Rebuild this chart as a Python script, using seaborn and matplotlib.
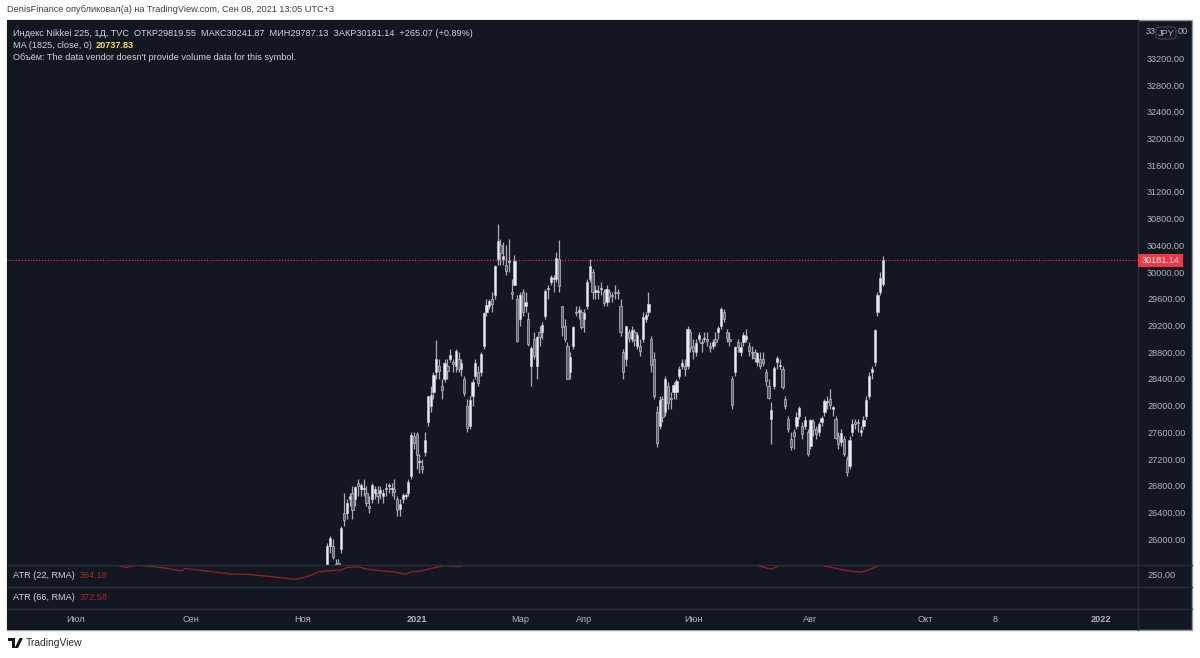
import numpy as np
import matplotlib
matplotlib.use("Agg")
import matplotlib.pyplot as plt
import matplotlib.transforms as mtransforms
from matplotlib.patches import Rectangle, FancyBboxPatch, Polygon, Circle
import seaborn as sns

# daily candles, Nikkei 225, bar 0 = 2 Nov 2020 ... bar 208 = 8 Sep 2021
opens = [
    23100, 23500, 23850, 24160, 24400, 25300, 25050, 25400, 25300, 25550, 25900, 25900, 25600, 25650, 25850, 26400, 26400, 26600, 26700,
    26600, 26850, 26750, 26750, 26700, 26500, 26600, 26700, 26700, 26700, 26650, 26750, 26800, 26750, 26750, 26600, 26450, 26600, 26650, 26700, 26950, 27550,
    27575, 27150, 27100, 27300, 27750, 28000, 28200, 28500, 28600, 28300, 28400, 28600, 28700, 28650, 28600, 28700, 28550, 28400, 28000,
    27700, 28150, 28450, 28500, 28500, 28900, 29400, 29500, 29600, 29650, 30200, 30400, 30200, 30100, 30150, 29700, 29800, 29600,
    29300, 29700, 29500, 29300, 28600, 29000, 28600, 29100, 29100, 29350, 29750, 29850, 29900, 29900, 30200, 29500, 29200, 28900, 28500, 28900, 29400, 29400, 29400,
    29300, 29500, 29900, 30000, 29700, 29700, 29750, 29700, 29550, 29700, 29650, 29700, 29700, 29500, 28800, 28700, 29100, 29000, 29100, 28900, 28900,
    29000, 29300, 29400, 29000, 28700, 27900, 27700, 28100, 27900, 28300, 28100, 28200, 28200, 28450, 28600, 28600, 28600, 29100,
    28900, 28800, 29000, 28950, 29000, 29000, 28900, 28900, 29000, 29100, 29200, 29400, 29100, 29000, 28400, 28500, 28950, 28800, 28950, 29000, 28900, 28800,
    28800, 28650, 28700, 28700, 28500, 28300, 27800, 28300, 28650, 28600, 28550, 28100, 27800, 27500, 27600, 27700, 27850, 27700, 27700, 27600,
    27400, 27750, 27650, 27600, 27750, 27900, 28050, 28100, 27950, 27800, 27550, 27450, 27500, 27200, 27100, 27600, 27750, 27750, 27600, 27700, 27850,
    28150, 28500, 28650, 29400, 29700, 29819.55,
]
highs = [
    23300, 23750, 24180, 24400, 24900, 25350, 25400, 25600, 25500, 25950, 26057, 26000, 25700, 25700, 26200, 26700, 26600, 26700, 26800,
    26800, 26900, 26850, 26900, 26800, 26650, 26850, 26800, 26800, 26800, 26750, 26850, 26850, 26850, 26900, 26650, 26600, 26700, 26700, 26900, 27600, 27600,
    27600, 27280, 27200, 27600, 28150, 28300, 28500, 28980, 28700, 28400, 28700, 28700, 28850, 28700, 28850, 28800, 28700, 28450, 28100,
    28150, 28400, 28700, 28600, 28800, 29400, 29600, 29600, 29700, 30100, 30714, 30500, 30450, 30400, 30500, 29900, 30250, 29650,
    29700, 29750, 29700, 29400, 28900, 29100, 29050, 29200, 29250, 29750, 29800, 29950, 29950, 30300, 30485, 29500, 29300, 28950, 28800, 29200, 29500, 29500, 29450,
    29450, 29900, 30200, 30050, 29800, 29800, 29850, 29750, 29800, 29750, 29700, 29800, 29750, 29600, 28850, 29200, 29150, 29200, 29150, 29100, 29000,
    29400, 29400, 29700, 29050, 28800, 28000, 28150, 28150, 28450, 28350, 28200, 28350, 28400, 28600, 28700, 28700, 29200, 29150,
    29000, 29000, 29100, 29000, 29100, 29100, 28950, 29000, 29100, 29200, 29480, 29450, 29150, 29100, 28450, 28900, 29000, 28950, 29100, 29150, 28950, 28900,
    28850, 28800, 28800, 28800, 28550, 28400, 28050, 28600, 28750, 28700, 28600, 28150, 27850, 27600, 27650, 27900, 28000, 27750, 27850, 27650,
    27800, 27800, 27700, 27750, 27850, 28100, 28150, 28250, 28000, 27850, 27600, 27650, 27550, 27250, 27550, 27800, 27800, 27800, 27700, 27850, 28150,
    28500, 28600, 29150, 29700, 30000, 30241.87,
]
lows = [
    22950, 23400, 23800, 24100, 24350, 24800, 25000, 25300, 25200, 25500, 25800, 25700, 25450, 25400, 25800, 26200, 26300, 26500, 26300,
    26500, 26650, 26650, 26650, 26500, 26400, 26550, 26600, 26550, 26600, 26550, 26650, 26700, 26650, 26600, 26350, 26350, 26550, 26600, 26650, 26900, 27350,
    27050, 27000, 27000, 27250, 27700, 27900, 28100, 28400, 28400, 28100, 28350, 28400, 28650, 28500, 28500, 28500, 28450, 28150, 27600,
    27650, 28000, 28400, 28300, 28450, 28850, 29350, 29450, 29400, 29600, 30100, 30100, 30100, 29950, 30000, 29600, 29800, 28950,
    29200, 29350, 29400, 28900, 28300, 28700, 28400, 28900, 29000, 29300, 29600, 29800, 29700, 29850, 29700, 29050, 28950, 28400, 28400, 28850, 29350, 29300, 29150,
    29100, 29450, 29850, 29600, 29600, 29600, 29650, 29500, 29500, 29550, 29550, 29600, 29600, 29050, 28400, 28600, 28950, 28950, 28900, 28850, 28750,
    28950, 29250, 29350, 28500, 28100, 27385, 27650, 27750, 27850, 27950, 27950, 28100, 28100, 28400, 28550, 28450, 28550, 28800,
    28700, 28750, 28950, 28800, 28950, 28900, 28800, 28850, 28900, 29000, 29150, 29250, 28950, 28900, 27950, 28450, 28800, 28750, 28900, 28950, 28750, 28700,
    28650, 28600, 28550, 28600, 28300, 28100, 27420, 28250, 28550, 28550, 28250, 27950, 27600, 27330, 27350, 27650, 27800, 27500, 27650, 27250,
    27350, 27550, 27500, 27550, 27700, 27850, 27950, 27950, 27850, 27500, 27350, 27400, 27250, 26954, 27050, 27550, 27650, 27600, 27550, 27650, 27800,
    28100, 28400, 28600, 29350, 29650, 29787.13,
]
closes = [
    23295, 23695, 24105, 24325, 24839, 24905, 25349, 25520, 25385, 25906, 26014, 25728, 25634, 25527, 26165, 26296, 26537, 26644, 26433,
    26787, 26800, 26809, 26751, 26547, 26467, 26817, 26756, 26652, 26732, 26687, 26757, 26806, 26763, 26714, 26436, 26524, 26668, 26656, 26854, 27568, 27444,
    27258, 27158, 27056, 27490, 28139, 28164, 28456, 28698, 28519, 28242, 28633, 28523, 28756, 28631, 28822, 28546, 28635, 28197, 27663,
    28091, 28362, 28646, 28341, 28779, 29388, 29505, 29562, 29520, 30084, 30467, 30292, 30236, 30017, 30156, 29671, 30168, 28966,
    29663, 29408, 29559, 28930, 28864, 28743, 29028, 29036, 29211, 29717, 29766, 29921, 29914, 30216, 29792, 29174, 28995, 28405, 28729, 29176, 29384, 29432, 29178,
    29388, 29854, 30089, 29696, 29730, 29708, 29768, 29538, 29751, 29620, 29642, 29683, 29685, 29100, 28508, 29188, 29020, 29126, 28991, 29053, 28812,
    29331, 29357, 29518, 28608, 28147, 27448, 28084, 27824, 28406, 28044, 28098, 28317, 28364, 28553, 28642, 28549, 29149, 28860,
    28814, 28946, 29058, 28941, 29019, 28963, 28860, 28958, 28948, 29161, 29441, 29291, 29018, 28964, 28010, 28884, 28874, 28875, 29066, 29048, 28812, 28791,
    28707, 28783, 28598, 28643, 28366, 28118, 27940, 28569, 28718, 28608, 28279, 28003, 27652, 27388, 27548, 27833, 27970, 27581, 27782, 27283,
    27781, 27641, 27584, 27728, 27820, 28070, 28070, 28015, 27977, 27523, 27424, 27585, 27281, 27013, 27494, 27732, 27724, 27742, 27641, 27789, 28089,
    28451, 28543, 29128, 29660, 29916, 30181.14,
]

# ATR indicator samples (bar offset, value)
atr22_bars = [-70, -68, -65, -63, -59, -56, -53, -48, -45, -43, -42, -37, -30, -25, -20, -15, -10, -5, -3, -1,
              2, 6, 10, 14, 16, 20, 23, 28, 33, 37, 39, 43, 46, 51, 56, 59, 62, 70, 80, 90,
              100, 110, 120, 130, 140, 150, 155, 160, 163, 165, 168, 170, 172, 176, 180, 184, 187, 191, 194, 197,
              200, 203, 206, 208]
atr22 = [372, 366, 345, 330, 358, 345, 338, 318, 298, 290, 318, 298, 270, 250, 250, 235, 218, 200, 190, 198,
         225, 278, 292, 298, 330, 338, 310, 290, 278, 250, 278, 290, 318, 350, 338, 366, 420, 480, 520, 500,
         470, 440, 430, 470, 450, 400, 380, 375, 350, 334, 310, 340, 380, 400, 390, 375, 346, 320, 298, 285,
         274, 300, 346, 364.18]
atr66_bars = [-70, -60, -50, -40, -30, -20, -10, -5, -2, 0, 3, 10, 20, 30, 36, 38, 40, 50, 60, 80,
              100, 120, 140, 160, 180, 200, 208]
atr66 = [380, 360, 350, 340, 332, 326, 322, 319, 316, 318, 322, 330, 328, 324, 321, 318, 321, 340, 380, 450,
         480, 470, 460, 420, 390, 370, 372.58]

# top label 33600.00 is half hidden by the currency badge ("33 JPY 00")
price_ticks = list(range(26000, 33201, 400))
time_labels = ["Июл", "Сен", "Ноя", "2021", "Мар", "Апр", "Июн", "Авг", "Окт", "8", "2022"]
time_bars = [-81, -40, 0, 41, 78, 101, 140, 182, 223, 248, 286]

assert len(opens) == len(highs) == len(lows) == len(closes) == 209

W, H = 1200, 658
BG = '#131722'
SEP = '#2a2e39'
TXT = '#b2b5be'
HEAD = '#d1d4dc'
ATR_RED = '#8e1f24'

sns.set_theme(style="dark")
plt.rcParams['font.family'] = ['Liberation Sans', 'DejaVu Sans']
FS = 6.6

fig = plt.figure(figsize=(12, 6.58), dpi=100)
fig.patch.set_facecolor('white')


def px_axes(x0, y0, x1, y1):
    ax = fig.add_axes([x0 / W, 1 - y1 / H, (x1 - x0) / W, (y1 - y0) / H])
    ax.set_facecolor(BG)
    for s in ax.spines.values():
        s.set_visible(False)
    ax.grid(False)
    ax.set_xlim(-105.7, 299.3)
    return ax


def ftext(x, y, s, **kw):
    kw.setdefault('fontsize', FS)
    kw.setdefault('va', 'center')
    return fig.text(x / W, 1 - y / H, s, **kw)


# dark chart panel
fig.add_artist(Rectangle((7 / W, 1 - 630 / H), 1185 / W, 610 / H, transform=fig.transFigure,
                         facecolor=BG, edgecolor='#9598a1', lw=1.0, zorder=-5))

# price pane
ax = px_axes(7, 20, 1138, 564.5)
ax.set_ylim(25623, 33774)
bars = np.arange(len(closes))
o = np.array(opens)
c = np.array(closes)
up = c >= o
ax.vlines(bars, lows, highs, color='#a9acb5', lw=0.9, zorder=2)
ax.bar(bars[up], np.maximum(c - o, 15)[up], bottom=o[up], width=0.8,
       color='#e9ebf1', edgecolor='#d1d4dc', lw=0.4, zorder=3)
ax.bar(bars[~up], np.maximum(o - c, 15)[~up], bottom=c[~up], width=0.8,
       color='#5f626d', edgecolor='#b8bbc4', lw=0.5, zorder=3)
ax.axhline(closes[-1], color='#f23645', ls=(0, (1, 1.6)), lw=0.8, zorder=1)
ax.set_xticks([])
ax.yaxis.tick_right()
ax.set_yticks(price_ticks)
ax.set_yticklabels([f"{v:.2f}" for v in price_ticks])
ax.tick_params(axis='y', length=0, pad=6.5, labelsize=FS, labelcolor=TXT)

# ATR (22) pane
ax1 = px_axes(7, 564.5, 1138, 586.5)
ax1.set_ylim(106, 364)
sns.lineplot(x=atr22_bars, y=atr22, ax=ax1, color=ATR_RED, linewidth=1.0)
ax1.set_xticks([])
ax1.yaxis.tick_right()
ax1.set_yticks([250])
ax1.set_yticklabels(["250.00"])
ax1.tick_params(axis='y', length=0, pad=6.5, labelsize=FS, labelcolor=TXT)
ax1.set_xlabel("")
ax1.set_ylabel("")

# ATR (66) pane
ax2 = px_axes(7, 586.5, 1138, 608.5)
ax2.set_ylim(100, 320)
sns.lineplot(x=atr66_bars, y=atr66, ax=ax2, color=ATR_RED, linewidth=1.0)
ax2.set_xticks([])
ax2.set_yticks([])
ax2.set_xlabel("")
ax2.set_ylabel("")

# time axis
axt = px_axes(7, 608.5, 1138, 630)
axt.set_xticks([])
axt.set_yticks([])
trans = mtransforms.blended_transform_factory(axt.transData, axt.transAxes)
for b, lab in zip(time_bars, time_labels):
    axt.text(b, 0.5, lab, transform=trans, ha='center', va='center', fontsize=FS, color=TXT,
             fontweight='bold' if lab.isdigit() and len(lab) == 4 else 'normal')

# pane separators
for yy in (564.5, 586.5, 608.5):
    fig.add_artist(plt.Line2D([7 / W, 1192 / W], [1 - yy / H] * 2, color=SEP, lw=1, zorder=5))
fig.add_artist(plt.Line2D([1138 / W] * 2, [1 - 20 / H, 1 - 630 / H], color=SEP, lw=1, zorder=5))

# last price label
fig.add_artist(Rectangle((1138 / W, 1 - 267 / H), 45 / W, 13 / H, transform=fig.transFigure,
                         facecolor='#f23645', edgecolor='none', zorder=6))
ftext(1160.5, 260.5, "30181.14", ha='center', color='white', zorder=7)

# currency badge sitting on the 33600.00 label
fig.add_artist(FancyBboxPatch((1156 / W, 1 - 39 / H), 20 / W, 12 / H, transform=fig.transFigure,
                              boxstyle="round,pad=0,rounding_size=0.004", facecolor=BG,
                              edgecolor='#434651', lw=0.8, zorder=6))
ftext(1166, 33, "JPY", ha='center', color=TXT, zorder=7)
ftext(1146, 32, "33", color=TXT)
ftext(1177.5, 32, "00", color=TXT)

# header texts
ftext(7, 10, "DenisFinance опубликовал(а) на TradingView.com, Сен 08, 2021 13:05 UTC+3", color='#3b3f48')
ftext(13, 33, "Индекс Nikkei 225, 1Д, TVC  ОТКР29819.55  МАКС30241.87  МИН29787.13  ЗАКР30181.14  +265.07 (+0.89%)",
      color=HEAD)
ma_lab = ftext(13, 45.5, "MA (1825, close, 0)", color=HEAD)
fig.canvas.draw()
ma_end = ma_lab.get_window_extent().x1
ftext(ma_end + 4, 45.5, "20737.83", color='#f7e15a', fontweight='bold')
ftext(13, 58, "Объём: The data vendor doesn't provide volume data for this symbol.", color=HEAD)

# indicator legends
atr_a = ftext(13, 576, "ATR (22, RMA)", color=HEAD)
atr_b = ftext(13, 598, "ATR (66, RMA)", color=HEAD)
fig.canvas.draw()
ftext(atr_a.get_window_extent().x1 + 5, 576, "364.18", color='#a3272d')
ftext(atr_b.get_window_extent().x1 + 5, 598, "372.58", color='#a3272d')

# footer logo
fig.add_artist(Polygon([(8 / W, 1 - 638 / H), (15 / W, 1 - 638 / H), (15 / W, 1 - 648 / H), (12 / W, 1 - 648 / H),
                        (12 / W, 1 - 641 / H), (8 / W, 1 - 641 / H)], closed=True, transform=fig.transFigure,
                       facecolor='#131722', edgecolor='none'))
fig.add_artist(Circle((17 / W, 1 - 639.5 / H), 1.4 / W, transform=fig.transFigure, facecolor='#131722'))
fig.add_artist(Polygon([(19.5 / W, 1 - 638 / H), (23 / W, 1 - 638 / H), (18 / W, 1 - 648 / H), (14.8 / W, 1 - 648 / H)],
                       closed=True, transform=fig.transFigure, facecolor='#131722', edgecolor='none'))
ftext(26, 643.5, "TradingView", color='#2a2e39', fontsize=7.4)

fig.savefig("out.png", dpi=100)
